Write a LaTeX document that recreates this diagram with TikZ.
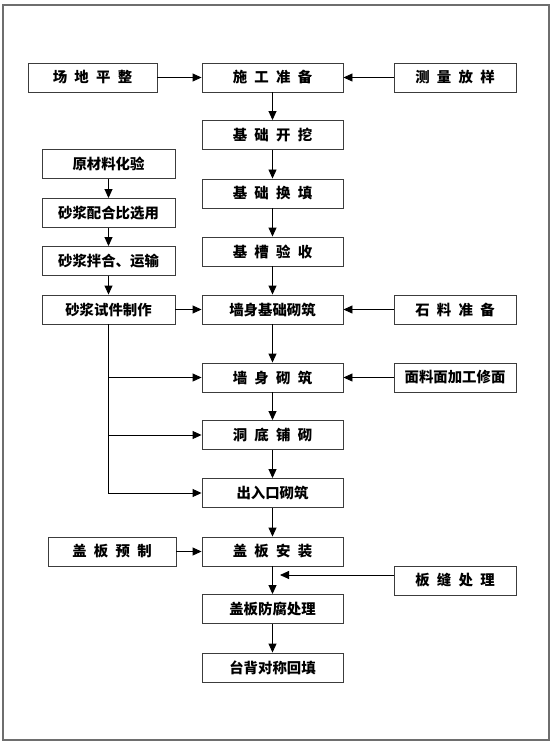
\documentclass[tikz,border=0pt]{standalone}
\usepackage{fontspec}
\usetikzlibrary{arrows.meta}
\newfontfamily\cjk{Noto Sans CJK SC}[WordSpace=2.2]
\definecolor{inkgray}{HTML}{3C3C3C}
\definecolor{framegray}{HTML}{6E6E6E}

\begin{document}
\begin{tikzpicture}[
    x=1pt, y=-1pt,
    font=\cjk\bfseries\fontsize{14.4}{16}\selectfont,
    >={Triangle[length=9pt, width=8pt]},
    stepbox/.style={draw=inkgray, line width=0.9pt, minimum width=141pt, minimum height=29pt, inner sep=0pt},
    sidebox/.style={stepbox, minimum width=133pt},
    prepbox/.style={stepbox, minimum width=122pt},
    arrow/.style={black, ->, line width=0.9pt},
    frame/.style={draw=framegray, line width=1.2pt},
]

    \useasboundingbox (0,0) rectangle (555,743);
    \draw[frame] (3,5) rectangle (549,740);

    % =====================================================================
    % MAIN LINE
    % =====================================================================
    \node[stepbox] (shigong) at (272.5, 77.5) {施 工 准 备};
    \node[stepbox] (kaiwa) at (272.5, 135) {基 础 开 挖};
    \node[stepbox] (huantian) at (272.5, 193.5) {基 础 换 填};
    \node[stepbox] (yanshou) at (272.5, 251.5) {基 槽 验 收};
    \node[stepbox] (jichu) at (272.5, 309.5) {墙身基础砌筑};
    \node[stepbox] (qiangshen) at (272.5, 377.5) {墙 身 砌 筑};
    \node[stepbox] (dongdi) at (272.5, 435) {洞 底 铺 砌};
    \node[stepbox] (churukou) at (272.5, 493) {出入口砌筑};
    \node[stepbox] (anzhuang) at (272.5, 551.5) {盖 板 安 装};
    \node[stepbox] (fangfu) at (272.5, 609) {盖板防腐处理};
    \node[stepbox] (huitian) at (272.5, 667.5) {台背对称回填};

    \draw[arrow] (shigong) -- (kaiwa);
    \draw[arrow] (kaiwa) -- (huantian);
    \draw[arrow] (huantian) -- (yanshou);
    \draw[arrow] (yanshou) -- (jichu);
    \draw[arrow] (jichu) -- (qiangshen);
    \draw[arrow] (qiangshen) -- (dongdi);
    \draw[arrow] (dongdi) -- (churukou);
    \draw[arrow] (churukou) -- (anzhuang);
    \draw[arrow] (anzhuang) -- (fangfu);
    \draw[arrow] (fangfu) -- (huitian);

    % =====================================================================
    % MORTAR (left)
    % =====================================================================
    \node[sidebox, minimum width=129pt] (changdi) at (92.5, 77.5) {场 地 平 整};
    \node[sidebox] (yuancai) at (108.5, 164) {原材料化验};
    \node[sidebox] (peihe) at (108.5, 213) {砂浆配合比选用};
    \node[sidebox] (banhe) at (108.5, 261) {砂浆拌合、运输};
    \node[sidebox] (shijian) at (108.5, 309.5) {砂浆试件制作};
    \node[sidebox, minimum width=128pt] (yuzhi) at (112, 551.5) {盖 板 预 制};

    \draw[arrow] (changdi) -- (shigong);
    \draw[arrow] (yuancai) -- (peihe);
    \draw[arrow] (peihe) -- (banhe);
    \draw[arrow] (banhe) -- (shijian);
    \draw[arrow] (shijian) -- (jichu);
    \draw[arrow] (shijian.south) |- (qiangshen.west);
    \draw[arrow] (shijian.south) |- (dongdi.west);
    \draw[arrow] (shijian.south) |- (churukou.west);
    \draw[arrow] (yuzhi) -- (anzhuang);

    % =====================================================================
    % PREPARATION (right)
    % =====================================================================
    \node[prepbox] (celiang) at (455, 77.5) {测 量 放 样};
    \node[prepbox] (shiliao) at (455, 309.5) {石 料 准 备};
    \node[prepbox] (mianliao) at (455, 377.5) {面料面加工修面};
    \node[prepbox] (banfeng) at (455, 580.5) {板 缝 处 理};

    \draw[arrow] (celiang) -- (shigong);
    \draw[arrow] (shiliao) -- (jichu);
    \draw[arrow] (mianliao) -- (qiangshen);
    \coordinate (seam) at (280, 575);
    \draw[arrow] (banfeng.west |- seam) -- (seam);

\end{tikzpicture}
\end{document}
